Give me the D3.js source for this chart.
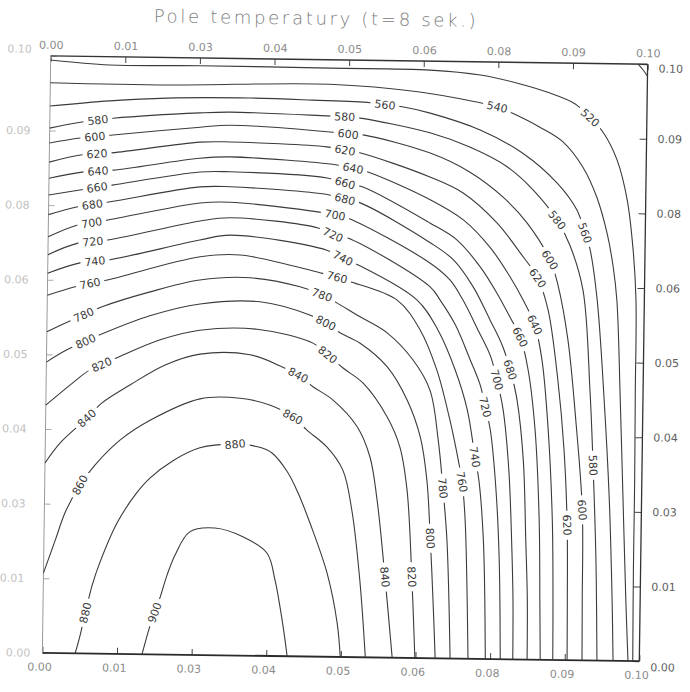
<!DOCTYPE html>
<html>
<head>
<meta charset="utf-8">
<script src="https://cdn.jsdelivr.net/npm/d3@7"></script>
<style>
  html, body { margin: 0; padding: 0; background: #fff; }
  svg { display: block; }
</style>
</head>
<body>
<svg id="chart" width="690" height="692"></svg>
<script>
// Temperature field in the cross-section after 8 s.
// Isotherm coordinates are [x, y] in mm (section is 100 x 100 mm), values in degrees.
const title = "Pole temperatury (t=8 sek.)";

const iso500 = [[98.4,100],[99.2,99.1],[100,98.0]];
const iso520 = [[0,99.3],[9.9,98.6],[25.0,98.7],[46.8,98.6],[63.6,98.5],[72.0,97.8],[78.7,96.4],[83.2,95.1],[87.9,93.2],[90.5,90.9],[92.7,88.5],[95.1,83.9],[96.9,77.2],[98.0,68.9],[98.6,60.5],[98.7,45],[98.8,30],[98.8,15],[98.9,0]];
const iso540 = [[0,95.5],[20.0,95.4],[46.8,95.9],[61.9,94.8],[71.2,93.3],[74.9,92.5],[77.4,91.5],[82.1,89.2],[86.0,86.8],[89.4,82.6],[91.8,77.6],[93.6,71.6],[94.7,66.0],[95.4,60.4],[96.2,43.7],[96.9,26.9],[97.6,10.2],[98.1,0]];
const iso560 = [[0,91.6],[10.0,92.6],[19.6,93.2],[33.5,93.4],[44.0,93.2],[53.6,92.9],[56.1,92.6],[59.0,92.3],[63.7,91.3],[72.1,88.6],[79.3,84.8],[85.1,79.9],[88.5,75.4],[89.9,71.6],[90.8,68.8],[92.1,60.4],[93.5,43.7],[94.6,26.9],[95.3,10.2],[95.6,0]];
const iso580 = [[0,87.9],[5.4,89.0],[10.6,89.7],[25.1,90.8],[30.2,91.0],[46.4,90.6],[49.4,90.5],[52.0,90.3],[63.7,88.0],[70.4,85.7],[76.7,82.5],[81.1,78.7],[85.2,73.7],[87.4,69.5],[89.7,62.0],[91.1,45.3],[91.8,32.7],[92.5,16.8],[92.9,0]];
const iso600 = [[0,85.4],[5.1,86.3],[10.6,86.9],[25.2,88.4],[30.2,88.8],[47.0,87.9],[50.0,87.6],[52.5,87.5],[63.8,84.6],[70.5,81.5],[76.1,77.4],[80.2,73.1],[84.1,67.0],[85.5,62.8],[87.3,53.6],[88.8,40.2],[90.1,25.2],[90.3,10.1],[90.4,0]];
const iso620 = [[0,82.2],[5.5,83.5],[10.5,83.9],[25.2,85.9],[30.2,86.0],[46.5,85.4],[49.5,84.9],[52.0,84.5],[63.8,80.6],[69.4,78.0],[75.1,73.1],[79.1,68.1],[82.1,63.9],[83.9,58.6],[85.7,46.9],[86.9,35.2],[87.6,22.6],[87.8,10.1],[87.9,0]];
const iso640 = [[0,79.5],[5.5,80.6],[10.7,81.0],[25.2,83.2],[30.3,83.5],[48.2,82.4],[50.9,81.9],[53.4,81.3],[63.9,76.8],[69.5,73.5],[74.0,69.0],[77.5,64.0],[79.7,60.2],[81.7,56.1],[83.0,50.2],[84.2,38.5],[85.1,23.4],[85.4,10.0],[85.5,0]];
const iso660 = [[0,76.7],[5.2,77.6],[10.6,78.5],[25.3,80.9],[30.3,81.0],[46.6,80.2],[49.6,79.4],[52.5,78.8],[63.9,72.9],[68.5,70.1],[72.4,65.7],[75.3,61.3],[77.6,57.2],[79.3,54.0],[80.7,48.5],[82.0,38.5],[82.9,23.4],[83.2,10.0],[83.4,0]];
const iso680 = [[0,73.4],[4.9,74.8],[10.3,75.7],[25.3,78.4],[30.3,78.5],[46.8,77.4],[49.6,76.7],[52.2,76.1],[64.0,69.6],[67.9,66.8],[71.3,62.3],[74.2,56.8],[76.3,52.6],[77.7,48.5],[78.9,43.5],[80.1,33.4],[80.7,20.0],[81.1,10.0],[81.2,0]];
const iso700 = [[0,69.7],[4.8,71.7],[9.8,72.6],[25.4,75.7],[30.4,75.9],[45.1,74.5],[48.0,74.0],[50.2,73.5],[64.0,66.2],[67.4,63.4],[69.6,60.1],[72.2,55.1],[74.3,50.9],[75.5,46.8],[76.6,41.8],[77.7,31.7],[78.4,18.3],[78.7,9.9],[78.8,0]];
const iso720 = [[0,66.7],[5.0,68.7],[10.0,69.3],[25.4,72.7],[30.4,73.3],[45.2,71.8],[47.7,70.7],[50.2,70.2],[64.1,62.2],[65.8,60.0],[68.4,55.9],[71.0,50.0],[72.7,45.9],[73.6,42.2],[74.5,38.4],[75.6,28.3],[76.3,16.6],[76.7,0]];
const iso740 = [[0,63.6],[5.4,65.4],[10.4,66.0],[25.4,69.5],[30.5,70.4],[46.7,68.1],[49.4,66.8],[52.0,65.7],[61.9,60.0],[65.5,55.0],[68.5,48.3],[70.6,41.7],[72.0,33.8],[72.7,30.0],[73.6,19.9],[74.2,0]];
const iso760 = [[0,59.9],[4.6,61.4],[10.0,62.6],[25.5,66.7],[32.2,67.1],[45.6,64.3],[48.5,63.6],[51.0,62.8],[58.6,59.9],[62.5,55.0],[65.4,48.3],[67.7,40.0],[69.2,33.3],[69.9,29.6],[70.5,23.2],[71.3,0]];
const iso780 = [[0,53.8],[4.2,55.8],[9.2,58.1],[17.2,60.7],[25.5,62.8],[33.9,63.3],[42.3,61.9],[46.0,60.6],[48.5,59.3],[51.9,57.3],[57.0,54.4],[61.4,49.9],[64.3,44.9],[65.8,36.6],[66.7,28.5],[67.5,19.8],[68.3,0]];
const iso800 = [[0,48.7],[3.4,50.8],[8.9,53.4],[17.2,56.7],[25.6,58.8],[35.6,59.3],[44.0,57.2],[46.7,55.9],[49.1,54.3],[52.5,52.6],[57.1,48.7],[60.5,43.2],[62.8,37.0],[64.0,29.8],[64.7,20.1],[65.3,9.8],[65.8,0]];
const iso820 = [[0,41.5],[4.0,44.9],[7.3,47.5],[11.8,49.6],[19.0,52.7],[25.6,54.4],[35.2,54.7],[44.6,52.5],[47.1,50.6],[49.7,48.4],[53.1,45.9],[57.2,40.3],[59.4,35.3],[60.7,28.1],[61.7,13.6],[62.4,0]];
const iso840 = [[0,31.8],[2.5,35.2],[6.9,39.4],[9.4,42.0],[14.1,45.1],[19.9,48.5],[25.7,50.4],[34.1,50.4],[39.6,48.4],[42.2,47.1],[44.7,45.2],[48.1,43.0],[52.2,38.6],[54.4,33.6],[55.7,26.4],[57.2,13.5],[58.6,0]];
const iso860 = [[0,13.4],[1.9,18.9],[3.5,23.6],[5.9,28.2],[8.4,31.6],[12.5,35.8],[17.5,39.2],[25.8,42.9],[32.5,43.1],[37.6,42.0],[41.4,40.1],[43.8,37.9],[47.2,35.1],[49.9,31.3],[51.5,24.6],[53.0,12.9],[54.1,0]];
const iso880 = [[5.5,0],[6.3,3.1],[7.1,6.8],[8.2,11.5],[9.4,15.2],[12.2,21.9],[15.2,26.7],[17.6,29.5],[21.3,32.4],[25.9,34.7],[31.8,35.4],[35.6,35.0],[38.0,34.0],[40.6,30.9],[42.4,27.5],[44.5,22.4],[47.5,14.0],[49.3,5.7],[49.9,0]];
const iso900 = [[16.7,0],[18.0,4.9],[19.6,9.6],[20.7,13.3],[22.0,16.7],[24.4,20.6],[28.6,21.3],[33.3,19.9],[37.4,17.2],[38.8,12.7],[39.7,8.2],[40.4,4.1],[41.0,0]];

const isotherms = [
  [500, iso500], [520, iso520], [540, iso540], [560, iso560], [580, iso580],
  [600, iso600], [620, iso620], [640, iso640], [660, iso660], [680, iso680],
  [700, iso700], [720, iso720], [740, iso740], [760, iso760], [780, iso780],
  [800, iso800], [820, iso820], [840, iso840], [860, iso860], [880, iso880],
  [900, iso900]
];

// Where each isotherm carries its value: [temperature, x mm, y mm]
const labelAnchors = [
  [520, 90.5, 90.9], [540, 74.9, 92.5],
  [560, 56.1, 92.6], [560, 89.9, 71.6],
  [580, 8.1, 89.0], [580, 49.4, 90.5], [580, 85.2, 73.7], [580, 91.8, 32.7],
  [600, 7.6, 86.4], [600, 50.0, 87.6], [600, 84.1, 67.0], [600, 90.1, 25.2],
  [620, 8.0, 83.5], [620, 49.5, 84.9], [620, 82.1, 63.9], [620, 87.6, 22.6],
  [640, 8.2, 80.8], [640, 50.9, 81.9], [640, 81.7, 56.1],
  [660, 8.1, 78.0], [660, 49.6, 79.4], [660, 79.3, 54.0],
  [680, 7.4, 74.8], [680, 49.6, 76.7], [680, 77.7, 48.5],
  [700, 7.3, 71.9], [700, 48.0, 74.0], [700, 75.5, 46.8],
  [720, 7.5, 68.8], [720, 47.7, 70.7], [720, 73.6, 42.2],
  [740, 7.9, 65.6], [740, 49.4, 66.8], [740, 72.0, 33.8],
  [760, 7.1, 62.1], [760, 48.5, 63.6], [760, 69.9, 29.6],
  [780, 6.0, 57.0], [780, 46.0, 60.6], [780, 66.7, 28.5],
  [800, 6.4, 52.5], [800, 46.7, 55.9], [800, 64.7, 20.1],
  [820, 9.3, 48.3], [820, 47.1, 50.6], [820, 61.7, 13.6],
  [840, 6.9, 39.4], [840, 42.2, 47.1], [840, 57.2, 13.5],
  [860, 5.9, 28.2], [860, 41.4, 40.1],
  [880, 7.1, 6.8], [880, 31.8, 35.4],
  [900, 18.4, 7.1]
];

// Axis ticks every 12.5 mm, labelled in metres with two decimals
const tickValues = [0, 12.5, 25, 37.5, 50, 62.5, 75, 87.5, 100];
const tickLabels = ["0.00", "0.01", "0.03", "0.04", "0.05", "0.06", "0.08", "0.09", "0.10"];

// ---- layout ----
const frame = { left: 46.5, top: 60, size: 597 };
const tilt = 0.8;   // the sheet sits slightly rotated
const cx = frame.left + frame.size / 2, cy = frame.top + frame.size / 2;
const FONT = "'DejaVu Sans', 'Liberation Sans', sans-serif";
const INK = "#3b3b3b";

const x = d3.scaleLinear().domain([0, 100]).range([frame.left, frame.left + frame.size]);
const y = d3.scaleLinear().domain([0, 100]).range([frame.top + frame.size, frame.top]);

const svg = d3.select("#chart");
svg.append("rect").attr("width", 690).attr("height", 692).attr("fill", "#fff");

const g = svg.append("g").attr("transform", `rotate(${tilt},${cx},${cy})`);

// title
g.append("text")
  .attr("x", 310).attr("y", 25)
  .attr("text-anchor", "middle")
  .attr("font-family", FONT).attr("font-size", 18).attr("font-weight", 300)
  .attr("fill", "#7c7c7c")
  .attr("textLength", 322).attr("lengthAdjust", "spacing")
  .text(title);

// ---- axes on all four sides, ticks pointing inward ----
const fmt = (d) => tickLabels[tickValues.indexOf(d)];
function styleAxis(sel, color) {
  sel.select(".domain").remove();
  sel.selectAll(".tick line").attr("stroke", "#444").attr("stroke-width", 1);
  sel.selectAll(".tick text").attr("font-family", FONT).attr("font-size", 11).attr("fill", color);
}
const axTop = g.append("g").attr("transform", `translate(0,${frame.top})`)
  .call(d3.axisTop(x).tickValues(tickValues).tickFormat(fmt).tickSizeInner(-6).tickSizeOuter(0).tickPadding(7));
styleAxis(axTop, "#8a8a8a");

const axBottom = g.append("g").attr("transform", `translate(0,${frame.top + frame.size})`)
  .call(d3.axisBottom(x).tickValues(tickValues).tickFormat(fmt).tickSizeInner(-6).tickSizeOuter(0).tickPadding(10));
styleAxis(axBottom, "#8a8a8a");
axBottom.selectAll(".tick text").attr("dx", -3);

const axLeft = g.append("g").attr("transform", `translate(${frame.left},0)`)
  .call(d3.axisLeft(y).tickValues(tickValues).tickFormat(fmt).tickSizeInner(-6).tickSizeOuter(0).tickPadding(19));
styleAxis(axLeft, "#c2c2c2");
axLeft.selectAll(".tick line").attr("stroke", "#aaa");
axLeft.selectAll(".tick text").filter(d => d === 100).attr("dy", "-0.3em");
axLeft.selectAll(".tick text").filter(d => d === 0).attr("dx", 7);

const axRight = g.append("g").attr("transform", `translate(${frame.left + frame.size},0)`)
  .call(d3.axisRight(y).tickValues(tickValues).tickFormat(fmt).tickSizeInner(-7).tickSizeOuter(0).tickPadding(11));
styleAxis(axRight, "#5e5e5e");
axRight.selectAll(".tick text").filter(d => d === 100).attr("dy", "0.7em");
axRight.selectAll(".tick text").filter(d => d === 0).attr("dy", "0.85em");

// ---- frame ----
const x0 = x(0), x1 = x(100), y0 = y(100), y1 = y(0);
g.append("line").attr("x1", x0).attr("y1", y0).attr("x2", x1).attr("y2", y0).attr("stroke", "#333").attr("stroke-width", 1.4);
g.append("line").attr("x1", x1).attr("y1", y0).attr("x2", x1).attr("y2", y1).attr("stroke", "#333").attr("stroke-width", 1.3);
g.append("line").attr("x1", x0).attr("y1", y1).attr("x2", x1).attr("y2", y1).attr("stroke", "#2a2a2a").attr("stroke-width", 1.8);
g.append("line").attr("x1", x0).attr("y1", y0).attr("x2", x0).attr("y2", y1).attr("stroke", "#9a9a9a").attr("stroke-width", 1);

// ---- isotherms ----
const line = d3.line().x(d => x(d[0])).y(d => y(d[1])).curve(d3.curveCatmullRom.alpha(0.5));
const lineGroup = g.append("g").attr("fill", "none").attr("stroke", INK).attr("stroke-width", 1.1);
lineGroup.selectAll("path").data(isotherms).join("path").attr("d", d => line(d[1]));

// ---- inline value labels, oriented along their isotherm ----
const byLevel = new Map(isotherms);
function placeOnLine(level, ax, ay) {
  const pts = byLevel.get(level).map(p => [x(p[0]), y(p[1])]);
  const px = x(ax), py = y(ay);
  let best = null;
  for (let i = 0; i < pts.length - 1; i++) {
    const [xa, ya] = pts[i], [xb, yb] = pts[i + 1];
    const dx = xb - xa, dy = yb - ya;
    const len2 = dx * dx + dy * dy || 1;
    let t = ((px - xa) * dx + (py - ya) * dy) / len2;
    t = Math.max(0, Math.min(1, t));
    const qx = xa + t * dx, qy = ya + t * dy;
    const dist = (qx - px) ** 2 + (qy - py) ** 2;
    if (!best || dist < best.dist) best = { dist, qx, qy, dx, dy };
  }
  let ang = Math.atan2(best.dy, best.dx) * 180 / Math.PI;
  if (ang > 90) ang -= 180;
  if (ang <= -90) ang += 180;
  return { x: best.qx, y: best.qy, ang };
}

const labels = g.append("g");
labelAnchors.forEach(([level, ax, ay]) => {
  const p = placeOnLine(level, ax, ay);
  const lg = labels.append("g").attr("transform", `translate(${p.x},${p.y}) rotate(${p.ang})`);
  const gap = lg.append("rect").attr("fill", "#fff");
  const t = lg.append("text")
    .attr("text-anchor", "middle").attr("dy", "0.36em")
    .attr("font-family", FONT).attr("font-size", 11).attr("fill", INK)
    .text(level);
  const w = t.node().getComputedTextLength();
  gap.attr("x", -w / 2 - 4).attr("y", -5).attr("width", w + 8).attr("height", 10);
});
</script>
</body>
</html>
